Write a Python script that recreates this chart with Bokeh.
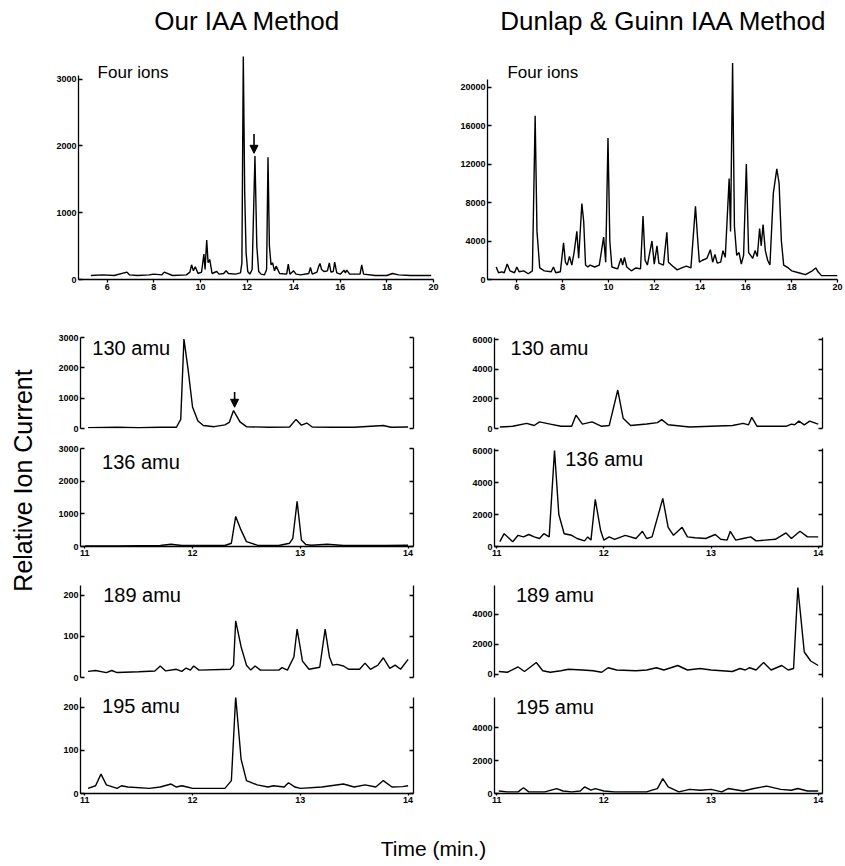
from bokeh.plotting import figure
from bokeh.layouts import row, column
from bokeh.models import (Range1d, FixedTicker, LinearAxis, CustomJSTickFormatter,
                          Label, Arrow, NormalHead)
from bokeh.embed import file_html
from bokeh.resources import INLINE
import math

FONT = "Liberation Sans"

# ---------------- data (time in min, relative ion current) ----------------
our_four_ions = [(5.3, 60), (5.8, 70), (6.3, 60), (6.85, 110), (6.95, 70), (7.3, 60), (7.8, 70),
                 (8.0, 80), (8.35, 70), (8.45, 110), (8.8, 60), (9.4, 70), (9.55, 110), (9.62, 220),
                 (9.7, 130), (9.78, 190), (9.9, 90), (10.05, 110), (10.15, 380), (10.2, 150),
                 (10.27, 590), (10.33, 250), (10.4, 300), (10.5, 90), (10.7, 120), (10.8, 80),
                 (11.0, 90), (11.1, 130), (11.2, 90), (11.5, 80), (11.72, 100), (11.78, 250),
                 (11.84, 3350), (11.9, 1300), (11.96, 400), (12.03, 120), (12.12, 80), (12.22, 150),
                 (12.34, 1850), (12.42, 500), (12.5, 120), (12.6, 80), (12.75, 70), (12.84, 150),
                 (12.9, 1830), (12.96, 500), (13.03, 220), (13.1, 250), (13.18, 130), (13.25, 200),
                 (13.4, 90), (13.7, 80), (13.77, 230), (13.84, 80), (14.0, 130), (14.1, 80),
                 (14.3, 70), (14.65, 90), (14.72, 180), (14.8, 80), (15.0, 110), (15.08, 200),
                 (15.13, 240), (15.2, 150), (15.3, 120), (15.45, 130), (15.53, 250), (15.6, 110),
                 (15.7, 120), (15.76, 260), (15.85, 100), (16.0, 80), (16.16, 140), (16.22, 100),
                 (16.28, 140), (16.4, 80), (16.85, 80), (16.92, 220), (17.0, 80), (17.5, 60),
                 (18.0, 60), (18.24, 90), (18.5, 70), (19.0, 60), (19.9, 60)]

dg_four_ions = [(5.1, 1300), (5.2, 700), (5.35, 800), (5.45, 700), (5.58, 1600), (5.7, 900),
                (5.9, 700), (6.0, 1300), (6.1, 800), (6.3, 900), (6.5, 600), (6.68, 900),
                (6.8, 17000), (6.88, 5000), (7.0, 1200), (7.2, 900), (7.5, 800), (7.6, 1300),
                (7.7, 700), (7.9, 800), (8.04, 3800), (8.12, 1800), (8.2, 1500), (8.3, 2400),
                (8.4, 1500), (8.5, 2800), (8.62, 5000), (8.7, 2200), (8.84, 7900), (8.92, 6000),
                (9.0, 1500), (9.1, 1300), (9.2, 1500), (9.4, 1300), (9.6, 1500), (9.79, 4400),
                (9.88, 1800), (9.98, 14700), (10.06, 4000), (10.15, 1300), (10.4, 1100),
                (10.55, 2200), (10.62, 1500), (10.7, 2300), (10.8, 1300), (11.0, 900),
                (11.2, 1200), (11.4, 1100), (11.51, 6600), (11.6, 2000), (11.7, 1500),
                (11.9, 4000), (12.0, 1600), (12.12, 3500), (12.2, 1700), (12.4, 1500),
                (12.55, 4900), (12.62, 1800), (12.8, 1400), (13.0, 1000), (13.2, 1200),
                (13.4, 1400), (13.6, 1200), (13.8, 7600), (13.9, 4000), (13.97, 1800),
                (14.1, 2000), (14.3, 2200), (14.45, 3100), (14.55, 1800), (14.65, 2600),
                (14.75, 1700), (14.9, 1800), (15.0, 3000), (15.1, 2300), (15.27, 10500),
                (15.33, 5000), (15.42, 22500), (15.5, 5500), (15.6, 2500), (15.7, 2800),
                (15.8, 1600), (15.9, 2500), (16.02, 12000), (16.12, 2800), (16.3, 2200),
                (16.4, 3000), (16.5, 2400), (16.6, 5300), (16.67, 3500), (16.75, 5700),
                (16.85, 3000), (16.95, 2000), (17.05, 1500), (17.1, 4000), (17.2, 9000),
                (17.35, 11500), (17.45, 10000), (17.55, 4000), (17.65, 1500), (17.85, 1200),
                (18.0, 900), (18.3, 700), (18.6, 500), (18.9, 900), (19.05, 1200), (19.15, 800),
                (19.3, 400), (20.0, 400)]

our_130 = [(11.03, 30), (11.3, 40), (11.5, 25), (11.7, 40), (11.85, 40), (11.89, 300),
           (11.92, 2950), (11.96, 1900), (12.0, 700), (12.05, 250), (12.1, 100), (12.2, 60),
           (12.3, 120), (12.34, 200), (12.38, 590), (12.44, 220), (12.5, 60), (12.7, 40),
           (12.9, 50), (12.96, 300), (13.01, 110), (13.06, 180), (13.11, 50), (13.3, 40),
           (13.5, 40), (13.77, 100), (13.84, 40), (14.0, 50)]

our_136 = [(11.0, 20), (11.3, 20), (11.7, 30), (11.8, 70), (11.9, 30), (12.0, 30), (12.3, 30),
           (12.36, 100), (12.4, 920), (12.45, 500), (12.5, 150), (12.6, 40), (12.8, 30),
           (12.9, 100), (12.93, 250), (12.97, 1380), (13.01, 200), (13.05, 60), (13.1, 40),
           (13.25, 70), (13.4, 30), (13.8, 30), (14.0, 40)]

our_189 = [(11.03, 15), (11.1, 17), (11.2, 12), (11.25, 17), (11.3, 12), (11.5, 14), (11.65, 16),
           (11.7, 28), (11.75, 16), (11.85, 20), (11.9, 15), (11.94, 23), (11.98, 18),
           (12.01, 28), (12.06, 18), (12.35, 20), (12.38, 30), (12.4, 138), (12.45, 75),
           (12.5, 30), (12.54, 18), (12.58, 28), (12.63, 18), (12.8, 18), (12.83, 24),
           (12.88, 18), (12.94, 50), (12.97, 118), (13.02, 40), (13.08, 20), (13.18, 25),
           (13.23, 118), (13.27, 50), (13.3, 30), (13.34, 32), (13.4, 28), (13.45, 20),
           (13.55, 20), (13.6, 35), (13.65, 20), (13.72, 30), (13.77, 48), (13.83, 22),
           (13.88, 30), (13.93, 20), (14.0, 44)]

our_195 = [(11.03, 12), (11.1, 18), (11.15, 45), (11.2, 20), (11.3, 12), (11.34, 18), (11.4, 15),
           (11.6, 12), (11.7, 15), (11.8, 22), (11.85, 15), (11.9, 18), (11.95, 15), (12.0, 12),
           (12.3, 12), (12.36, 30), (12.4, 225), (12.45, 80), (12.5, 30), (12.6, 20), (12.7, 15),
           (12.75, 18), (12.85, 15), (12.89, 25), (12.95, 15), (13.0, 12), (13.2, 15),
           (13.4, 22), (13.5, 15), (13.6, 20), (13.7, 15), (13.77, 30), (13.85, 15),
           (13.95, 16), (14.0, 18)]

dg_130 = [(11.03, 100), (11.15, 150), (11.28, 350), (11.35, 200), (11.4, 450), (11.5, 300),
          (11.6, 150), (11.7, 150), (11.74, 900), (11.8, 300), (11.89, 450), (11.98, 150),
          (12.05, 200), (12.13, 2600), (12.18, 700), (12.25, 200), (12.4, 300), (12.5, 400),
          (12.54, 600), (12.6, 250), (12.8, 100), (13.0, 150), (13.2, 200), (13.3, 350),
          (13.35, 250), (13.38, 750), (13.43, 150), (13.7, 150), (13.75, 300), (13.78, 250),
          (13.82, 500), (13.87, 250), (13.92, 500), (14.0, 300)]

dg_136 = [(11.03, 300), (11.07, 800), (11.15, 300), (11.2, 700), (11.25, 600), (11.3, 750),
          (11.35, 600), (11.4, 500), (11.44, 800), (11.49, 600), (11.54, 6000), (11.58, 2000),
          (11.63, 800), (11.7, 700), (11.75, 500), (11.82, 350), (11.85, 600), (11.88, 400),
          (11.92, 2950), (11.97, 1000), (12.0, 400), (12.05, 600), (12.1, 450), (12.2, 700),
          (12.3, 500), (12.36, 950), (12.4, 500), (12.45, 600), (12.55, 3000), (12.6, 1200),
          (12.65, 700), (12.73, 1200), (12.78, 600), (12.85, 550), (12.95, 500), (13.04, 750),
          (13.09, 450), (13.15, 400), (13.18, 950), (13.23, 400), (13.3, 500), (13.37, 600),
          (13.42, 350), (13.6, 450), (13.7, 850), (13.75, 500), (13.83, 950), (13.9, 600),
          (14.0, 600)]

dg_189 = [(11.02, 200), (11.1, 150), (11.2, 500), (11.26, 200), (11.37, 800), (11.43, 250),
          (11.5, 150), (11.6, 250), (11.67, 350), (11.8, 300), (11.9, 250), (11.98, 150),
          (12.04, 450), (12.12, 300), (12.3, 250), (12.4, 300), (12.49, 450), (12.56, 300),
          (12.69, 600), (12.78, 300), (12.9, 400), (13.0, 300), (13.2, 200), (13.27, 400),
          (13.32, 300), (13.36, 450), (13.42, 300), (13.49, 800), (13.56, 300), (13.66, 600),
          (13.72, 300), (13.77, 400), (13.81, 5800), (13.87, 1500), (13.93, 900), (14.0, 600)]

dg_195 = [(11.02, 150), (11.1, 100), (11.2, 100), (11.25, 350), (11.3, 100), (11.45, 100),
          (11.56, 300), (11.62, 150), (11.7, 100), (11.78, 150), (11.82, 400), (11.88, 200),
          (11.92, 300), (12.0, 150), (12.1, 100), (12.4, 100), (12.45, 200), (12.5, 300),
          (12.55, 900), (12.6, 400), (12.7, 100), (12.8, 250), (12.9, 200), (13.0, 250),
          (13.1, 100), (13.16, 300), (13.3, 150), (13.4, 300), (13.52, 450), (13.65, 250),
          (13.75, 200), (13.81, 300), (13.9, 150), (14.0, 150)]

wide_x_ticks = [6, 8, 10, 12, 14, 16, 18, 20]
narrow_x_ticks = [11, 12, 13, 14]
our_four_y_ticks = [0, 1000, 2000, 3000]
dg_four_y_ticks = [0, 4000, 8000, 12000, 16000, 20000]
our_upper_y_ticks = [0, 1000, 2000, 3000]
our_lower_y_ticks = [0, 100, 200]
dg_upper_y_ticks = [0, 2000, 4000, 6000]
dg_lower_y_ticks = [0, 2000, 4000]


def style_axis(ax, ticks, tick_in=4, tick_out=0, size="9px", standoff=2):
    ax.ticker = FixedTicker(ticks=ticks)
    ax.minor_tick_line_color = None
    ax.major_tick_in = tick_in
    ax.major_tick_out = tick_out
    ax.axis_line_width = 1.3
    ax.major_tick_line_width = 1.3
    ax.axis_line_color = "black"
    ax.major_tick_line_color = "black"
    ax.major_label_text_font = FONT
    ax.major_label_text_font_style = "bold"
    ax.major_label_text_font_size = size
    ax.major_label_text_color = "black"
    ax.major_label_standoff = standoff


def panel(w, h, bl, br, bt, bb, xr, yr, xaxis, data, yticks, xticks, right_axis):
    p = figure(width=w, height=h, x_range=Range1d(*xr), y_range=Range1d(*yr),
               output_backend="svg", toolbar_location=None, title=None,
               x_axis_location="below" if xaxis else None, y_axis_location="left",
               min_border_left=bl, min_border_right=br, min_border_top=bt,
               min_border_bottom=bb)
    p.outline_line_color = None
    p.xgrid.visible = False
    p.ygrid.visible = False
    p.background_fill_color = "white"
    p.border_fill_color = "white"
    style_axis(p.yaxis[0], yticks)
    if xaxis:
        style_axis(p.xaxis[0], xticks, tick_in=0, tick_out=2, size="9px", standoff=1)
    if right_axis:
        ra = LinearAxis()
        style_axis(ra, yticks)
        ra.formatter = CustomJSTickFormatter(code="return ''")
        p.add_layout(ra, "right")
    xs = [t for t, v in data]
    ys = [v for t, v in data]
    p.line(xs, ys, line_color="black", line_width=1.4)
    return p


def text_label(p, x, y, text, size, align="left", angle=0.0):
    p.add_layout(Label(x=x, y=y, text=text, text_font=FONT, text_font_size=size,
                       text_baseline="middle", text_align=align, text_color="black",
                       angle=angle))


def arrow(p, x, y0, y1):
    p.add_layout(Arrow(end=NormalHead(size=8, fill_color="black", line_color="black"),
                       x_start=x, y_start=y0, x_end=x, y_end=y1,
                       line_color="black", line_width=1.6))


def blank(w, h):
    p = figure(width=w, height=h, x_range=Range1d(0, w), y_range=Range1d(0, h),
               output_backend="svg", toolbar_location=None, title=None,
               x_axis_location=None, y_axis_location=None,
               min_border_left=0, min_border_right=0, min_border_top=0, min_border_bottom=0)
    p.outline_line_color = None
    p.xgrid.visible = False
    p.ygrid.visible = False
    return p


YW, LW, RW = 36, 416, 391
TOTAL = YW + LW + RW

# ----- top row (four ions) -----
tl = panel(YW + LW, 253, 78, 19, 4, 26, (4.77, 20.0), (0, 3340), True, our_four_ions,
           our_four_y_ticks, wide_x_ticks, False)
tl.yaxis[0].bounds = (0, 3050)
tl.xaxis[0].major_tick_out = 3
text_label(tl, 5.59, 3100, "Four ions", "17px")
arrow(tl, 12.3, 2180, 1890)

tr = panel(RW, 253, 35, 6, 4, 26, (4.72, 20.0), (0, 23170), True, dg_four_ions,
           dg_four_y_ticks, wide_x_ticks, False)
tr.yaxis[0].bounds = (0, 20800)
tr.xaxis[0].major_tick_out = 3
text_label(tr, 5.59, 21500, "Four ions", "17px")

# ----- lower left column -----
l130 = panel(LW, 130, 44, 39, 32, 7, (10.96, 14.05), (0, 3000), False, our_130,
             our_upper_y_ticks, narrow_x_ticks, True)
text_label(l130, 11.07, 2670, "130 amu", "20px")
arrow(l130, 12.39, 1200, 700)

l136 = panel(LW, 127, 44, 39, 13, 16, (10.96, 14.05), (0, 3000), True, our_136,
             our_upper_y_ticks, narrow_x_ticks, True)
text_label(l136, 11.16, 2600, "136 amu", "20px")

l189 = panel(LW, 123, 44, 39, 23, 8, (10.96, 14.05), (0, 224), False, our_189,
             our_lower_y_ticks, narrow_x_ticks, True)
text_label(l189, 11.17, 200, "189 amu", "20px")

l195 = panel(LW, 141, 44, 39, 12, 33, (10.96, 14.05), (0, 223), True, our_195,
             our_lower_y_ticks, narrow_x_ticks, True)
text_label(l195, 11.16, 204, "195 amu", "20px")

# ----- lower right column -----
r130 = panel(RW, 130, 42, 21, 32, 7, (10.98, 14.04), (0, 6150), False, dg_130,
             dg_upper_y_ticks, narrow_x_ticks, True)
text_label(r130, 11.13, 5474, "130 amu", "20px")

r136 = panel(RW, 127, 42, 21, 13, 16, (10.98, 14.04), (0, 6125), True, dg_136,
             dg_upper_y_ticks, narrow_x_ticks, True)
text_label(r136, 11.64, 5500, "136 amu", "20px")

r189 = panel(RW, 123, 42, 21, 23, 8, (10.98, 14.04), (-200, 5930), False, dg_189,
             dg_lower_y_ticks, narrow_x_ticks, True)
text_label(r189, 11.18, 5264, "189 amu", "20px")

r195 = panel(RW, 141, 42, 21, 12, 33, (10.98, 14.04), (0, 5820), True, dg_195,
             dg_lower_y_ticks, narrow_x_ticks, True)
text_label(r195, 11.18, 5214, "195 amu", "20px")

# ----- texts -----
header = blank(TOTAL, 52)
text_label(header, 247, 32, "Our IAA Method", "26px", align="center")
text_label(header, 663, 32, "Dunlap & Guinn IAA Method", "26px", align="center")

ylab = blank(YW, 521)
text_label(ylab, 22, 346, "Relative Ion Current", "25px", align="center", angle=math.pi / 2)

footer = blank(TOTAL, 38)
text_label(footer, 433, 16, "Time (min.)", "21px", align="center")

layout = column(header,
                row(tl, tr),
                row(ylab, column(l130, l136, l189, l195), column(r130, r136, r189, r195)),
                footer)

open("out.html", "w").write(file_html(layout, INLINE))
